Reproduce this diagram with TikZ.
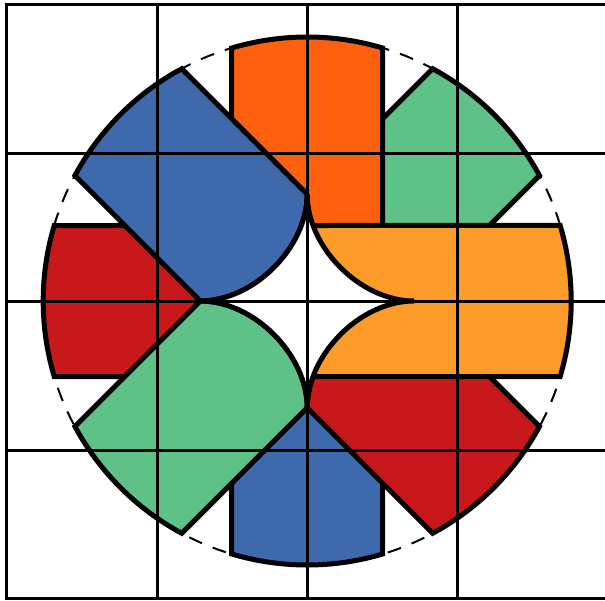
\documentclass[tikz,border=0pt]{standalone}
\definecolor{pblue}{HTML}{3E6AAD}
\definecolor{porange}{HTML}{FF600E}
\definecolor{pgreen}{HTML}{5EC288}
\definecolor{plight}{HTML}{FB9B29}
\definecolor{pred}{HTML}{C8181B}
\newcommand\axispiece[2]{%
  \path[piece, fill=#2, rotate=#1] (0,-\W) -- (\H,-\W)
    arc[start angle=-\A, end angle=\A, radius=\R] -- (0,\W) -- cycle;}
\newcommand\diagpiece[2]{%
  \path[piece, fill=#2, rotate=#1] (\W,-\W) -- (\H,-\W)
    arc[start angle=-\A, end angle=\A, radius=\R] -- (\W,\W)
    .. controls (\W/2,\W/2) and (\W/2,-\W/2) .. cycle;}
\begin{document}
\begin{tikzpicture}[x=1pt,y=1pt,
  piece/.style={draw=black, line width=5pt, line join=miter},
  gridline/.style={draw=black, line width=3pt},
  guide/.style={draw=black, line width=2pt, dash pattern=on 14pt off 11.5pt}]
\def\R{264}
\def\W{75.5}
\def\H{252.97}
\def\A{16.62}
\def\D{106.77}
\useasboundingbox (-307.2,-299) rectangle (297.8,301);
\fill[white] (-307.2,-299) rectangle (297.8,301);
% dashed circle
\path[guide] (0,0) circle[radius=\R];
% pieces, bottom to top
\axispiece{-90}{pblue}
\axispiece{180}{pred}
\diagpiece{45}{pgreen}
\diagpiece{-45}{pred}
\axispiece{90}{porange}
\axispiece{0}{plight}
\diagpiece{135}{pblue}
\diagpiece{-135}{pgreen}
% central star
\path[piece, fill=white] (\D,0) .. controls (\D/2,0) and (0,\D/2) .. (0,\D)
  .. controls (0,\D/2) and (-\D/2,0) .. (-\D,0)
  .. controls (-\D/2,0) and (0,-\D/2) .. (0,-\D)
  .. controls (0,-\D/2) and (\D/2,0) .. cycle;
% grid
\path[gridline] (-300.3,296) rectangle (301,-297);
\foreach \gx in {-150.1,0,150.6} {\path[gridline] (\gx,296) -- (\gx,-297);}
\foreach \gy in {147.5,0,-149.2} {\path[gridline] (-300.3,\gy) -- (301,\gy);}
\end{tikzpicture}
\end{document}
